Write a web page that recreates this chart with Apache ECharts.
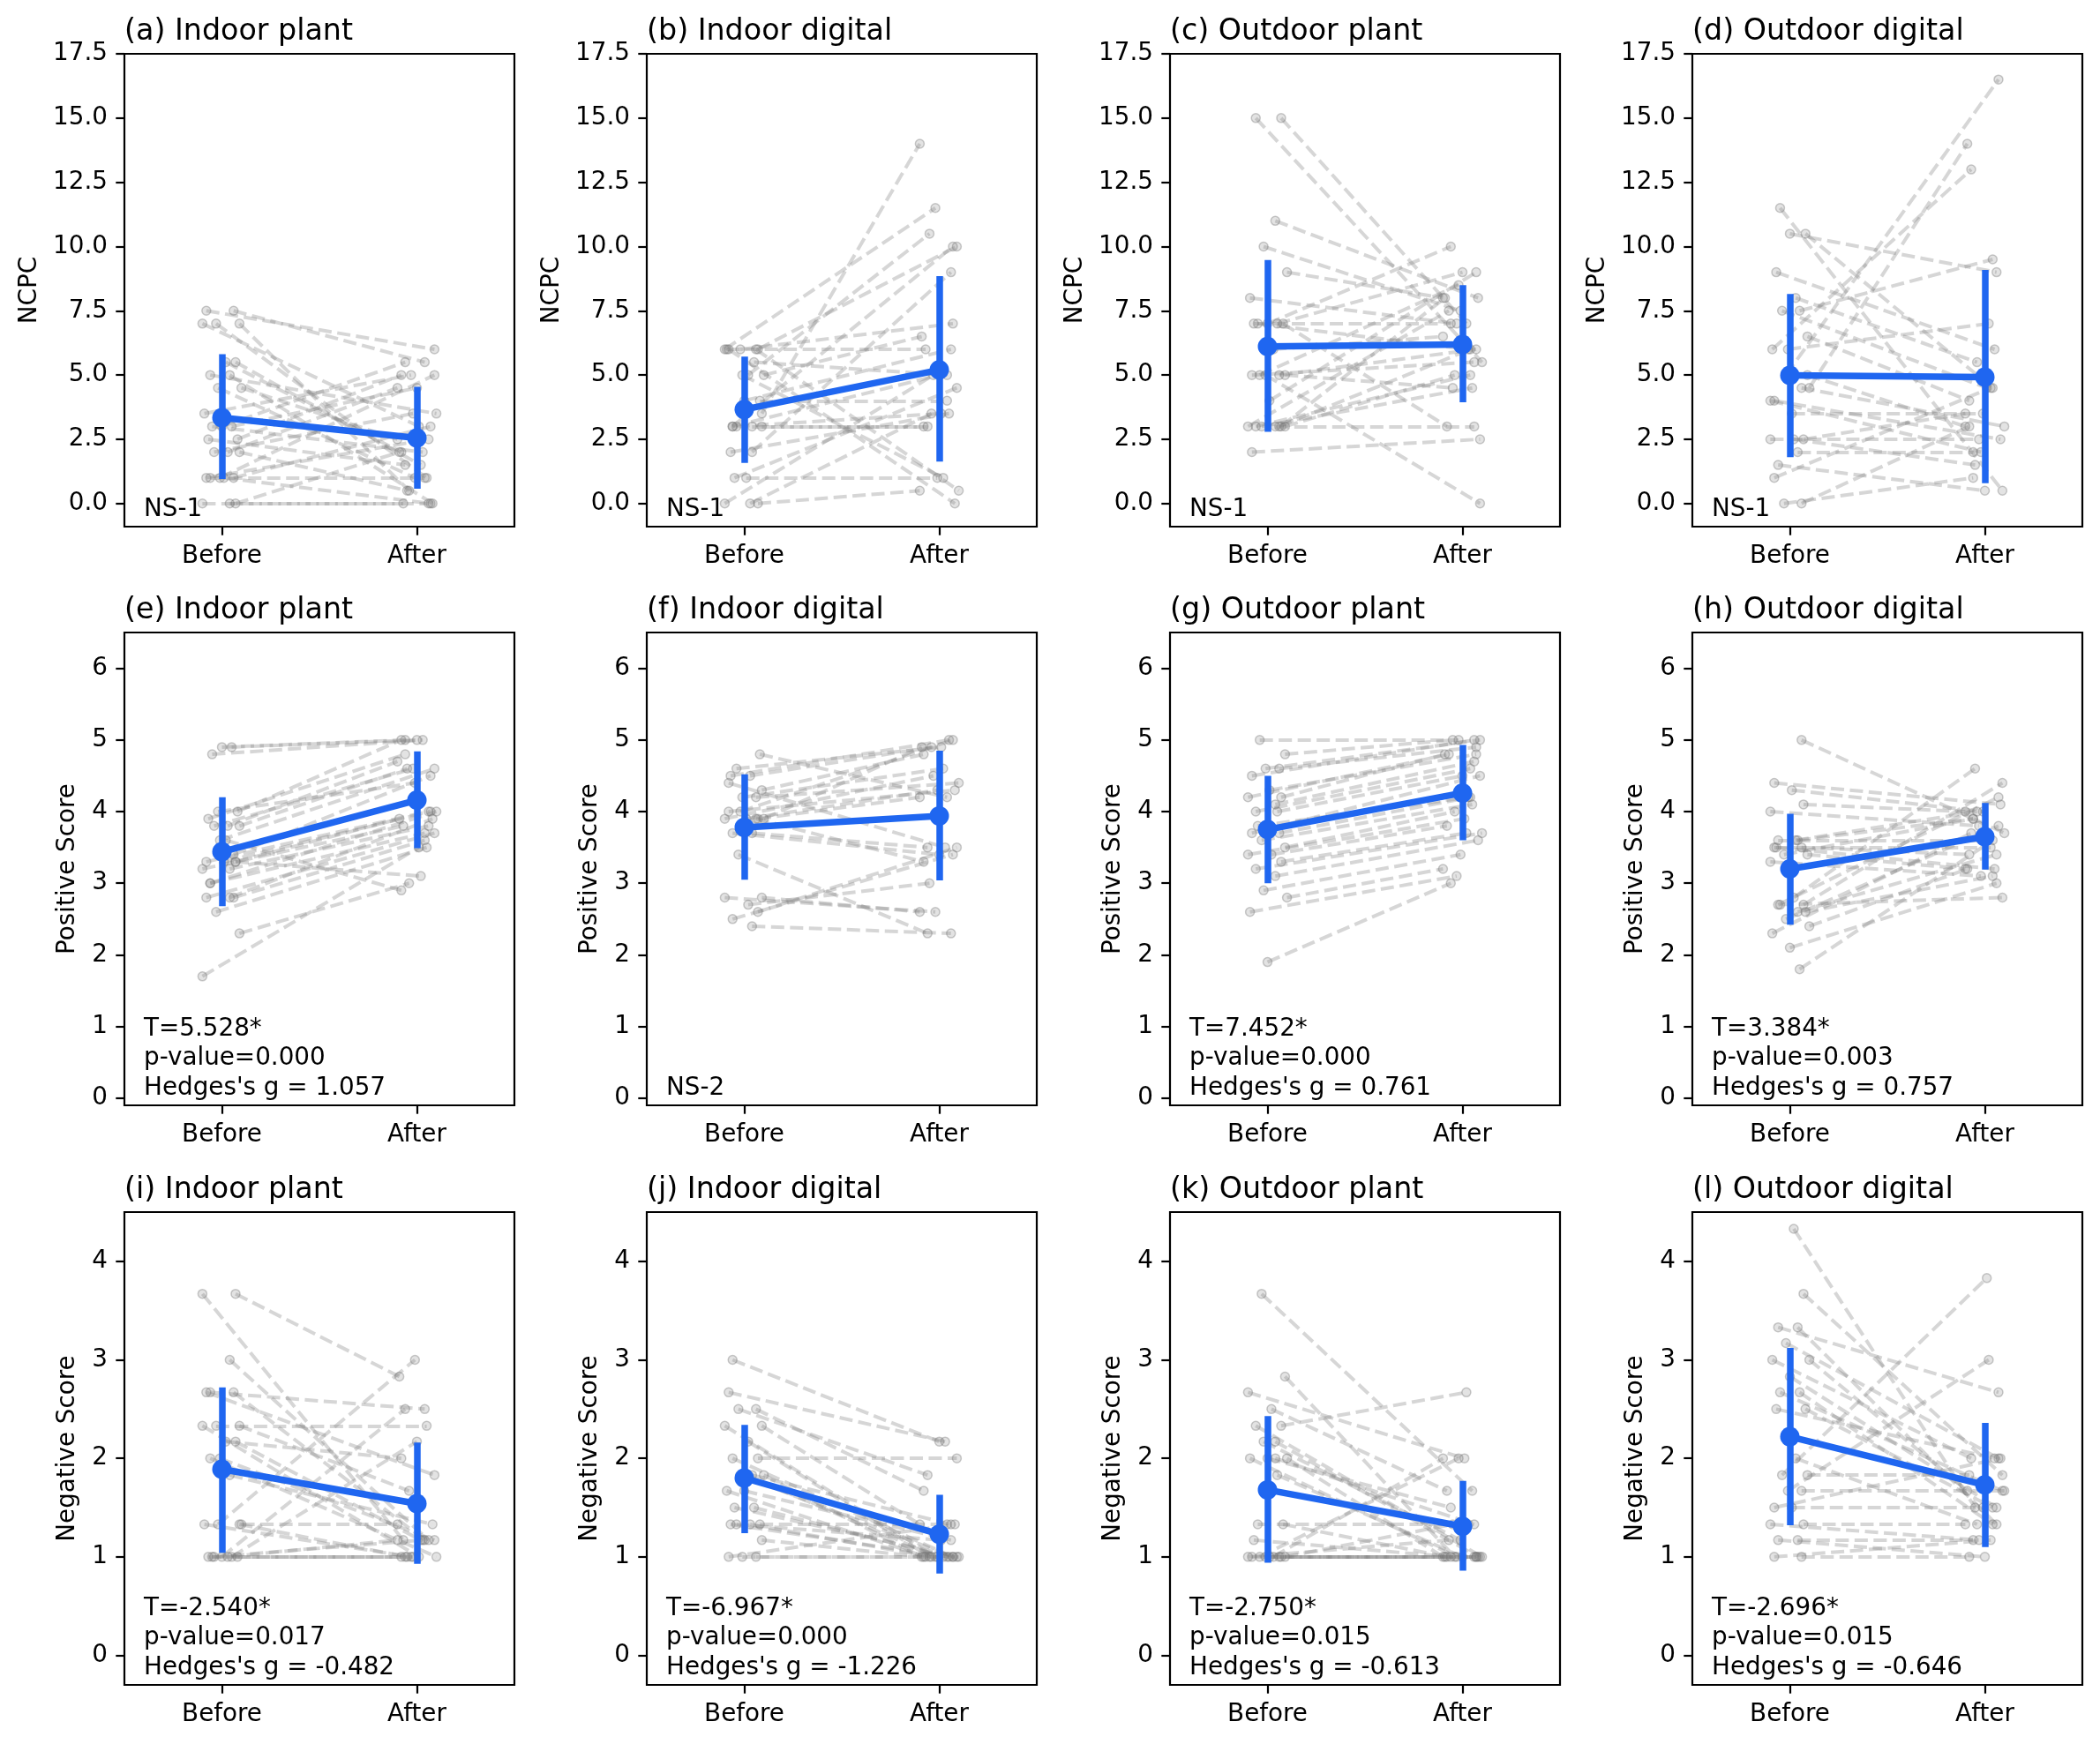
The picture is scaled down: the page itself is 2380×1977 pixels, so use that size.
<!DOCTYPE html>
<html><head><meta charset="utf-8">
<script src="https://cdn.jsdelivr.net/npm/echarts@6/dist/echarts.min.js"></script>
<style>html,body{margin:0;padding:0;background:#fff}#c{width:2380px;height:1977px}</style>
</head><body><div id="c"></div>
<script>
// ---------------- data ----------------
const CATEGORIES = ['Before', 'After'];
const TITLES = ['(a) Indoor plant', '(b) Indoor digital', '(c) Outdoor plant', '(d) Outdoor digital',
                '(e) Indoor plant', '(f) Indoor digital', '(g) Outdoor plant', '(h) Outdoor digital',
                '(i) Indoor plant', '(j) Indoor digital', '(k) Outdoor plant', '(l) Outdoor digital'];
const Y_LABELS = ['NCPC', 'Positive Score', 'Negative Score'];
const NCPC_TICKS = [0, 2.5, 5, 7.5, 10, 12.5, 15, 17.5];
const POS_TICKS = [0, 1, 2, 3, 4, 5, 6];
const NEG_TICKS = [0, 1, 2, 3, 4];

const A_BEFORE = [7.5,7.5,7,7,7,5.5,5.5,5,5,4.5,4.5,3.5,3,3,3,2.5,2.5,2,2,2,1,1,1,1,0,0,0,1];
const A_AFTER  = [6,5.5,1,0.5,3,2,1.5,3.5,0,1,2.5,5,5.5,4.5,2,5,1.5,4.5,3.5,0.5,5,3,2.5,0,2,0,0,1];
const B_BEFORE = [3.5,6,5,6,3,2,6,5,6,4,5.5,1,4,2,0,3,3,5,6,6,1,0,0,3,3];
const B_AFTER  = [14,11.5,10.5,10,10,9,7,6.5,6,6,5,4.5,4,3.5,3.5,3.5,3,1,0.5,0,1,0.5,5,3,5];
const C_BEFORE = [15,15,11,10,9,8,7,7,7,7,7,6,5,5,5,5,5,4,3,3,3,3,2,3,3,3];
const C_AFTER  = [7,5.5,8,7.5,8,7,10,9,6,3,7,6.5,8.5,4.5,0,6,5.5,9,8,7.5,3,5,2.5,6,4.5,5];
const D_BEFORE = [5,4.5,6,10.5,7.5,11.5,10.5,9,8,7.5,6.5,6,4.5,4,3.5,2.5,2.5,2,1.5,1,0,0,5,4,2.5];
const D_AFTER  = [16.5,14,13,9,9.5,0.5,4.5,6,5.5,4.5,4,7,3,2.5,3.5,3.5,2.5,2,0.5,4.5,3,1,3,2,1.5];
const E_BEFORE = [4.9,4.9,4.8,4.0,3.9,3.8,3.8,3.8,3.6,3.4,3.3,3.3,3.3,3.2,3.2,3.0,2.8,2.8,2.6,2.3,1.7,3.6,3.3,3.0,2.8,4.0];
const E_AFTER  = [5.0,5.0,5.0,5.0,4.8,4.7,4.6,4.6,4.6,4.5,4.0,4.0,3.9,3.8,3.8,3.7,3.7,3.6,3.5,3.0,3.5,2.9,3.1,4.0,3.9,4.4];
const F_BEFORE = [4.8,4.5,4.5,4.6,4.3,4.2,4.2,4.0,3.9,3.9,3.9,3.7,3.7,4.4,3.9,3.4,2.8,2.8,2.7,2.6,2.5,2.4,4.0,3.9];
const F_AFTER  = [4.2,5.0,4.9,4.9,4.8,4.6,4.4,4.3,4.3,4.2,4.5,3.5,3.4,3.5,3.3,2.3,2.6,2.6,3.0,3.5,3.4,2.3,5.0,4.9];
const G_BEFORE = [5.0,4.8,4.6,4.6,4.5,4.3,4.2,4.2,4.1,4.0,3.7,3.7,3.6,3.5,3.4,3.4,3.3,3.2,3.1,2.9,2.8,2.6,1.9,4.0,3.8];
const G_AFTER  = [5.0,5.0,5.0,4.9,5.0,4.8,4.8,4.8,4.7,4.6,4.5,4.2,4.1,4.0,3.9,3.8,3.7,3.7,3.6,3.4,3.2,3.1,3.0,4.5,4.2];
const H_BEFORE = [5.0,4.4,4.3,4.1,4.0,3.6,3.6,3.5,3.5,3.4,3.4,3.3,2.8,2.7,2.7,2.6,2.5,2.4,2.3,2.1,1.8,2.7,2.6,3.5,3.6];
const H_AFTER  = [3.7,4.1,4.0,4.0,3.8,3.9,3.6,3.5,3.4,3.9,3.2,3.1,4.6,4.4,4.2,3.4,3.8,3.2,3.7,3.0,3.6,2.8,3.1,3.2,4.0];
const I_BEFORE = [3.67,3.67,3.0,2.67,2.67,2.67,2.33,2.33,2.33,2.17,2.17,2.0,1.83,1.33,1.33,1.33,1.0,1.0,1.0,1.0,1.0,1.0,1.0,1.33,2.0];
const I_AFTER  = [2.83,1.17,1.17,2.5,1.83,1.17,2.33,1.67,1.0,2.0,1.17,1.0,1.33,3.0,1.33,1.0,2.5,2.17,1.17,1.0,1.0,1.17,1.0,1.0,1.17];
const J_BEFORE = [3.0,2.67,2.5,2.5,2.33,2.33,2.17,2.0,2.0,1.83,1.83,1.83,1.67,1.67,1.5,1.5,1.33,1.33,1.33,1.33,1.17,1.0,1.0,1.0,1.83];
const J_AFTER  = [2.17,2.17,1.67,1.83,1.33,1.0,1.0,2.0,1.0,1.33,1.0,1.0,1.0,1.17,1.0,1.0,1.33,1.0,1.0,1.17,1.0,1.0,1.0,1.33,1.0];
const K_BEFORE = [3.67,2.83,2.67,2.5,2.33,2.33,2.17,2.17,2.0,2.0,2.0,1.83,1.33,1.33,1.17,1.0,1.0,1.0,1.0,1.0,1.0,1.0,1.0,1.0,2.0];
const K_AFTER  = [1.67,1.0,2.0,1.67,2.67,1.0,1.0,1.17,1.0,1.0,1.5,1.0,1.33,1.0,1.0,2.0,2.0,1.33,1.0,1.0,1.0,1.0,1.0,1.17,1.33];
const L_BEFORE = [4.33,3.67,3.33,3.33,3.17,3.0,3.0,2.83,2.67,2.67,2.5,2.5,2.0,1.83,1.83,1.67,1.67,1.5,1.5,1.33,1.33,1.17,1.17,1.0,1.0];
const L_AFTER  = [1.5,1.83,2.67,1.33,2.0,1.67,2.0,1.5,1.33,1.67,1.5,2.0,1.33,3.83,1.83,3.0,1.67,2.0,1.5,1.33,1.17,1.17,1.0,1.17,1.0];

// group means and error-bar ends
const MEAN_BEFORE = [3.34, 3.66, 6.11, 4.99, 3.44, 3.78, 3.75, 3.20, 1.89, 1.80, 1.68, 2.22];
const MEAN_AFTER  = [2.55, 5.20, 6.19, 4.92, 4.16, 3.94, 4.26, 3.65, 1.54, 1.23, 1.31, 1.73];
const ERR_BEFORE_LOW  = [0.95, 1.58, 2.79, 1.80, 2.68, 3.05, 3.00, 2.42, 1.04, 1.24, 0.94, 1.32];
const ERR_BEFORE_HIGH = [5.81, 5.72, 9.48, 8.15, 4.20, 4.52, 4.50, 3.97, 2.72, 2.34, 2.43, 3.12];
const ERR_AFTER_LOW   = [0.58, 1.63, 3.94, 0.79, 3.49, 3.04, 3.60, 3.19, 0.93, 0.83, 0.86, 1.10];
const ERR_AFTER_HIGH  = [4.54, 8.85, 8.50, 9.09, 4.84, 4.85, 4.93, 4.12, 2.16, 1.63, 1.77, 2.36];

const NOTES = ['NS-1', 'NS-1', 'NS-1', 'NS-1',
  "T=5.528*\np-value=0.000\nHedges's g = 1.057", 'NS-2',
  "T=7.452*\np-value=0.000\nHedges's g = 0.761", "T=3.384*\np-value=0.003\nHedges's g = 0.757",
  "T=-2.540*\np-value=0.017\nHedges's g = -0.482", "T=-6.967*\np-value=0.000\nHedges's g = -1.226",
  "T=-2.750*\np-value=0.015\nHedges's g = -0.613", "T=-2.696*\np-value=0.015\nHedges's g = -0.646"];

// ---------------- layout / style ----------------
const PAIRS = [[A_BEFORE,A_AFTER],[B_BEFORE,B_AFTER],[C_BEFORE,C_AFTER],[D_BEFORE,D_AFTER],
               [E_BEFORE,E_AFTER],[F_BEFORE,F_AFTER],[G_BEFORE,G_AFTER],[H_BEFORE,H_AFTER],
               [I_BEFORE,I_AFTER],[J_BEFORE,J_AFTER],[K_BEFORE,K_AFTER],[L_BEFORE,L_AFTER]];
const ROW_TICKS = [NCPC_TICKS, POS_TICKS, NEG_TICKS];
const Y_RANGE = [[-0.9, 17.5], [-0.1, 6.5], [-0.3, 4.5]];
const Y_NAME_GAP = [93, 50, 50];
const TICK_FMT = [v => v.toFixed(1), v => String(Math.round(v)), v => String(Math.round(v))];
const COL_LEFT = [141, 733, 1326, 1918];
const ROW_TOP = [61, 717, 1374];
const W = 442, H = 536;
const FONT = 'DejaVu Sans';
const FS = 27.8, TFS = 33.3;
const BLUE = '#1f66f0';
const JIT = [-0.08,0.06,-0.03,0.09,-0.10,0.02,0.07,-0.06,0.04,-0.02,0.10,-0.09,0.00,0.05,
             -0.05,0.08,-0.07,0.03,-0.04,0.09,-0.01,0.06,-0.08,0.01,0.07,-0.10,0.04,-0.06];

const grids = [], xAxes = [], yAxes = [], series = [], graphics = [];
for (let i = 0; i < 12; i++) {
  const r = Math.floor(i / 4), c = i % 4;
  const left = COL_LEFT[c], top = ROW_TOP[r];
  grids.push({left: left, top: top, width: W, height: H, show: true,
              borderColor: '#000', borderWidth: 2.2, backgroundColor: 'transparent'});
  xAxes.push({gridIndex: i, type: 'value', min: -0.5, max: 1.5,
    axisLine: {show: false, onZero: false},
    axisTick: {show: true, length: 9.7, customValues: [0, 1], lineStyle: {color: '#000', width: 2.2}},
    axisLabel: {customValues: [0, 1], formatter: v => CATEGORIES[Math.round(v)],
                fontSize: FS, fontFamily: FONT, color: '#000', margin: 20},
    splitLine: {show: false}});
  yAxes.push({gridIndex: i, type: 'value', min: Y_RANGE[r][0], max: Y_RANGE[r][1],
    name: Y_LABELS[r], nameLocation: 'middle', nameRotate: 90, nameGap: Y_NAME_GAP[r],
    nameTextStyle: {fontSize: FS, fontFamily: FONT, color: '#000'},
    axisLine: {show: false, onZero: false},
    axisTick: {show: true, length: 9.7, customValues: ROW_TICKS[r], lineStyle: {color: '#000', width: 2.2}},
    axisLabel: {customValues: ROW_TICKS[r], formatter: TICK_FMT[r],
                fontSize: FS, fontFamily: FONT, color: '#000', margin: 19},
    splitLine: {show: false}});

  const [bef, aft] = PAIRS[i];
  const n = JIT.length;
  const lineData = [], pts = [];
  for (let k = 0; k < bef.length; k++) {
    const xb = JIT[(k + i * 3) % n], xa = 1 + JIT[(k * 5 + 3 + i) % n];
    lineData.push({coords: [[xb, bef[k]], [xa, aft[k]]]});
    pts.push([xb, bef[k]], [xa, aft[k]]);
  }
  series.push({type: 'lines', coordinateSystem: 'cartesian2d', xAxisIndex: i, yAxisIndex: i,
    polyline: false, silent: true, z: 1, data: lineData,
    lineStyle: {color: 'rgba(128,128,128,0.32)', width: 4, type: [15, 6.5], opacity: 1, curveness: 0}});
  series.push({type: 'scatter', xAxisIndex: i, yAxisIndex: i, silent: true, z: 2, data: pts,
    symbol: 'circle', symbolSize: 10,
    itemStyle: {color: 'rgba(128,128,128,0.28)', borderColor: 'rgba(110,110,110,0.45)', borderWidth: 1.5}});
  series.push({type: 'lines', coordinateSystem: 'cartesian2d', xAxisIndex: i, yAxisIndex: i,
    polyline: false, silent: true, z: 3,
    data: [{coords: [[0, ERR_BEFORE_LOW[i]], [0, ERR_BEFORE_HIGH[i]]]},
           {coords: [[1, ERR_AFTER_LOW[i]], [1, ERR_AFTER_HIGH[i]]]}],
    lineStyle: {color: BLUE, width: 7.5, opacity: 1, cap: 'butt', curveness: 0}});
  series.push({type: 'line', xAxisIndex: i, yAxisIndex: i, silent: true, z: 4,
    data: [[0, MEAN_BEFORE[i]], [1, MEAN_AFTER[i]]],
    symbol: 'circle', symbolSize: 22, itemStyle: {color: BLUE, borderWidth: 0},
    lineStyle: {color: BLUE, width: 7.5}});

  graphics.push({type: 'text', x: left, y: top - 8, silent: true,
    style: {text: TITLES[i], fill: '#000', fontSize: TFS, fontFamily: FONT,
            align: 'left', verticalAlign: 'bottom', lineHeight: TFS}});
  graphics.push({type: 'text', x: left + 22, y: top + H - 3, silent: true,
    style: {text: NOTES[i], fill: '#000', fontSize: FS, fontFamily: FONT,
            align: 'left', verticalAlign: 'bottom', lineHeight: 33.3}});
}

const chart = echarts.init(document.getElementById('c'), null, {renderer: 'canvas'});
chart.setOption({
  backgroundColor: '#fff', animation: false,
  grid: grids, xAxis: xAxes, yAxis: yAxes, series: series, graphic: graphics
});
</script></body></html>
